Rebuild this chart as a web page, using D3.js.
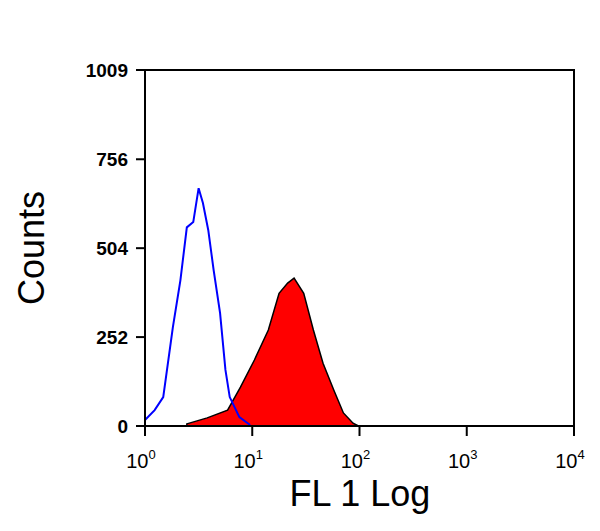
<!DOCTYPE html>
<html><head><meta charset="utf-8">
<script src="https://cdn.jsdelivr.net/npm/d3@7"></script>
<style>body{margin:0;background:#fff}text{font-family:Arial,"Liberation Sans",sans-serif}</style>
</head><body>
<script>
// log10 of channel, counts
var controlLog = [0, 0.09, 0.17, 0.26, 0.33, 0.39, 0.45, 0.5, 0.54, 0.59, 0.64, 0.7, 0.75, 0.79, 0.88, 0.98];
var controlCounts = [17, 45, 82, 280, 413, 563, 578, 674, 632, 555, 442, 320, 159, 82, 25, 3];
var stainLog = [0.39, 0.58, 0.77, 0.89, 1.02, 1.15, 1.25, 1.33, 1.39, 1.48, 1.57, 1.66, 1.76, 1.85, 1.94, 1.99];
var stainCounts = [6, 23, 45, 110, 187, 272, 376, 405, 419, 376, 272, 178, 102, 37, 8, 0];
var yTicks = [0, 252, 504, 756, 1009];
var xTicks = [0, 1, 2, 3, 4];

var svg = d3.select("body").append("svg").attr("width", 600).attr("height", 531);
var x = d3.scaleLinear().domain([0, 4]).range([145, 574]);
var y = d3.scaleLinear().domain([0, 1009]).range([426, 70]);

var stain = stainLog.map(function(d, i) { return [d, stainCounts[i]]; });
var control = controlLog.map(function(d, i) { return [d, controlCounts[i]]; });

svg.append("path").datum(stain)
	.attr("fill", "#ff0000").attr("stroke", "#000").attr("stroke-width", 1.5)
	.attr("d", d3.area().x(function(d) { return x(d[0]); }).y0(y(0)).y1(function(d) { return y(d[1]); }));

svg.append("path").datum(control)
	.attr("fill", "none").attr("stroke", "#0000ff").attr("stroke-width", 2)
	.attr("d", d3.line().x(function(d) { return x(d[0]); }).y(function(d) { return y(d[1]); }));

svg.append("rect").attr("x", 145).attr("y", 70).attr("width", 429).attr("height", 356)
	.attr("fill", "none").attr("stroke", "#000").attr("stroke-width", 2);

svg.selectAll(".yt").data(yTicks).enter().append("line")
	.attr("x1", 136).attr("x2", 145).attr("y1", y).attr("y2", y)
	.attr("stroke", "#000").attr("stroke-width", 2);
svg.selectAll(".yl").data(yTicks).enter().append("text")
	.attr("x", 128).attr("y", function(d) { return y(d) + 7; })
	.attr("text-anchor", "end").attr("font-size", 19).attr("font-weight", "bold")
	.text(function(d) { return d; });

svg.selectAll(".xt").data(xTicks).enter().append("line")
	.attr("x1", x).attr("x2", x).attr("y1", 426).attr("y2", 436)
	.attr("stroke", "#000").attr("stroke-width", 2);
var xl = svg.selectAll(".xl").data(xTicks).enter().append("text")
	.attr("x", function(d) { return x(d) - 4; }).attr("y", 468)
	.attr("text-anchor", "middle").attr("font-size", 20);
xl.append("tspan").text("10");
xl.append("tspan").attr("dy", -9).attr("font-size", 13).text(function(d) { return d; });

svg.append("text").attr("x", 360).attr("y", 506).attr("text-anchor", "middle")
	.attr("font-size", 36).text("FL 1 Log");
svg.append("text").attr("transform", "translate(44,248) rotate(-90)").attr("text-anchor", "middle")
	.attr("font-size", 36).text("Counts");
</script>
</body></html>
